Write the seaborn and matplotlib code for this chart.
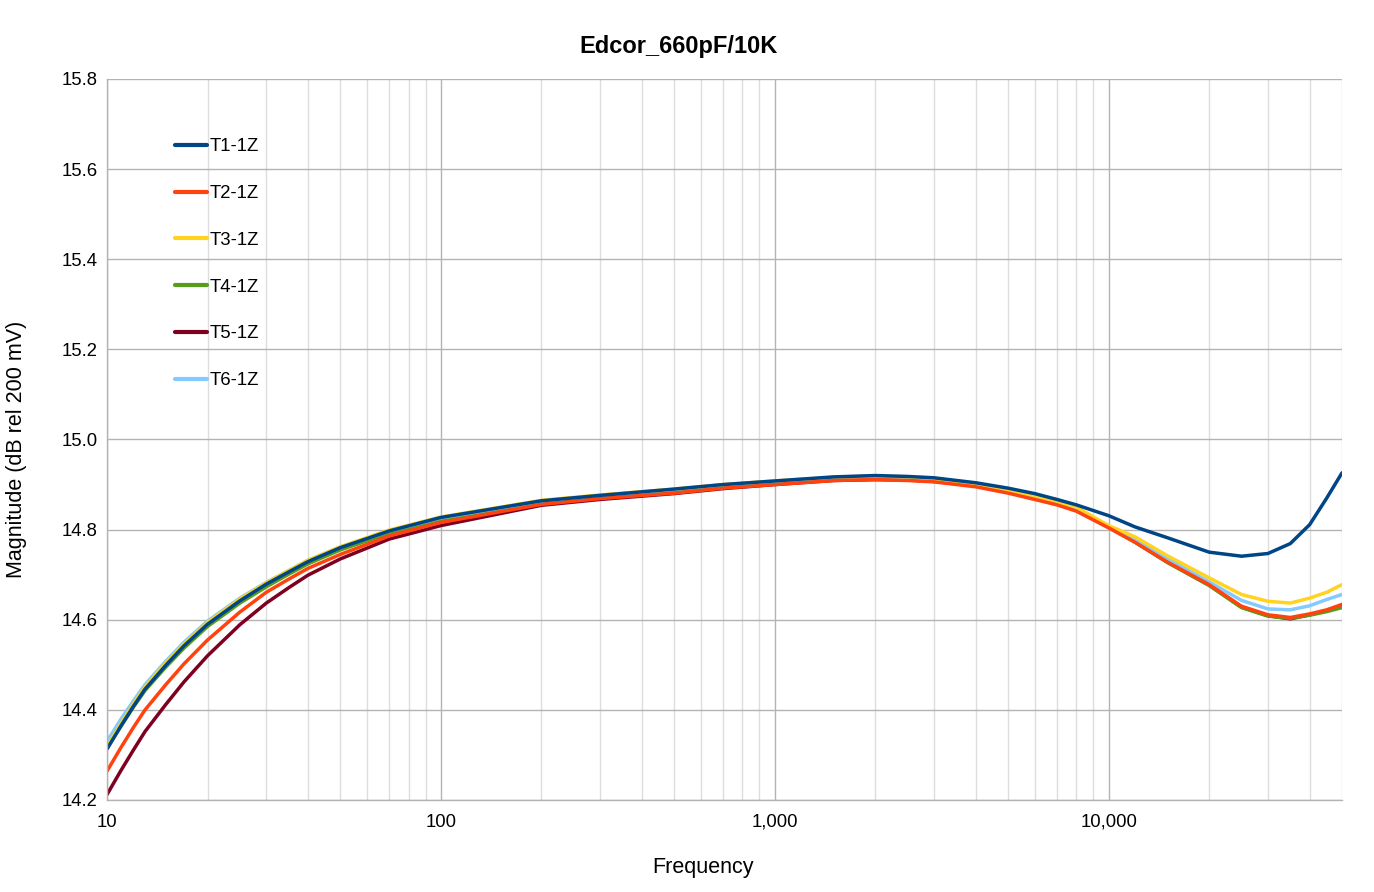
"""Edcor 660pF/10K frequency response, recreated with seaborn."""

import matplotlib

matplotlib.use("Agg")

import matplotlib.pyplot as plt
import pandas as pd
import seaborn as sns
from matplotlib.ticker import FuncFormatter, LogLocator, MultipleLocator, NullFormatter

# frequencies in Hz
freq = [10, 11, 12, 13, 15, 17, 20, 25, 30, 35, 40, 50, 70, 100, 200, 300,
        500, 700, 1000, 1500, 2000, 2500, 3000, 4000, 5000, 6000, 7000, 8000,
        10000, 12000, 15000, 20000, 25000, 30000, 35000, 40000, 45000, 50000]

t1 = [14.313, 14.364, 14.408, 14.446, 14.499, 14.542, 14.590, 14.642, 14.679,
      14.706, 14.729, 14.760, 14.797, 14.827, 14.864, 14.876, 14.890, 14.900,
      14.908, 14.917, 14.920, 14.918, 14.915, 14.904, 14.892, 14.880, 14.867,
      14.855, 14.831, 14.806, 14.782, 14.750, 14.741, 14.747, 14.769, 14.811,
      14.870, 14.926]
t2 = [14.264, 14.316, 14.361, 14.400, 14.456, 14.502, 14.555, 14.617, 14.661,
      14.690, 14.714, 14.745, 14.786, 14.816, 14.856, 14.869, 14.881, 14.892,
      14.900, 14.909, 14.911, 14.909, 14.906, 14.895, 14.881, 14.867, 14.855,
      14.841, 14.804, 14.772, 14.728, 14.678, 14.630, 14.611, 14.605, 14.613,
      14.622, 14.634]
t3 = [14.318, 14.369, 14.413, 14.451, 14.504, 14.546, 14.594, 14.646, 14.682,
      14.709, 14.732, 14.762, 14.799, 14.828, 14.865, 14.877, 14.890, 14.900,
      14.908, 14.916, 14.919, 14.917, 14.913, 14.901, 14.888, 14.875, 14.862,
      14.850, 14.809, 14.784, 14.742, 14.693, 14.656, 14.641, 14.637, 14.648,
      14.661, 14.678]
t4 = [14.315, 14.363, 14.406, 14.443, 14.495, 14.537, 14.585, 14.637, 14.673,
      14.701, 14.724, 14.755, 14.792, 14.822, 14.860, 14.872, 14.886, 14.896,
      14.904, 14.913, 14.916, 14.914, 14.911, 14.899, 14.885, 14.870, 14.857,
      14.843, 14.805, 14.772, 14.727, 14.676, 14.627, 14.608, 14.603, 14.610,
      14.618, 14.627]
t5 = [14.212, 14.265, 14.311, 14.352, 14.412, 14.462, 14.520, 14.589, 14.637,
      14.671, 14.699, 14.735, 14.779, 14.809, 14.854, 14.867, 14.880, 14.891,
      14.900, 14.909, 14.911, 14.910, 14.907, 14.897, 14.884, 14.871, 14.859,
      14.846, 14.806, 14.773, 14.728, 14.677, 14.628, 14.609, 14.602, 14.611,
      14.620, 14.632]
t6 = [14.330, 14.379, 14.420, 14.456, 14.508, 14.550, 14.597, 14.648, 14.683,
      14.709, 14.732, 14.761, 14.797, 14.826, 14.863, 14.875, 14.889, 14.899,
      14.907, 14.915, 14.918, 14.916, 14.912, 14.900, 14.887, 14.873, 14.860,
      14.847, 14.806, 14.778, 14.735, 14.684, 14.643, 14.624, 14.622, 14.631,
      14.645, 14.656]

series_names = ["T1-1Z", "T2-1Z", "T3-1Z", "T4-1Z", "T5-1Z", "T6-1Z"]
series_values = [t1, t2, t3, t4, t5, t6]
series_colors = ["#004586", "#ff420e", "#ffd320", "#579d1c", "#7e0021", "#83caff"]
# drawing order, so that the overlaps look like the original
draw_order = ["T5-1Z", "T4-1Z", "T6-1Z", "T3-1Z", "T2-1Z", "T1-1Z"]

frames = [pd.DataFrame({"Frequency": freq, "Magnitude": vals, "Series": name})
          for name, vals in zip(series_names, series_values)]
df = pd.concat(frames, ignore_index=True)
palette = dict(zip(series_names, series_colors))

sns.set_theme(style="white")
plt.rcParams["font.family"] = ["Liberation Sans", "DejaVu Sans"]
plt.rcParams["text.color"] = "black"

fig = plt.figure(figsize=(13.74, 8.92), dpi=100)
ax = fig.add_axes([107 / 1374, 1 - 800 / 892, 1235 / 1374, 721 / 892])

for name in draw_order:
    sns.lineplot(
        data=df[df["Series"] == name],
        x="Frequency",
        y="Magnitude",
        color=palette[name],
        linewidth=2.5,
        ax=ax,
        legend=False,
    )

ax.set_xscale("log")
ax.set_xlim(10, 50000)
ax.set_ylim(14.2, 15.8)
ax.yaxis.set_major_locator(MultipleLocator(0.2))
ax.yaxis.set_major_formatter(FuncFormatter(lambda v, _: f"{v:.1f}"))
ax.xaxis.set_major_locator(LogLocator(base=10, numticks=10))
ax.xaxis.set_minor_locator(LogLocator(base=10, subs=range(2, 10), numticks=50))
ax.xaxis.set_major_formatter(FuncFormatter(lambda v, _: f"{v:,.0f}"))
ax.xaxis.set_minor_formatter(NullFormatter())

ax.grid(True, which="major", color="#b3b3b3", linewidth=1.0)
ax.grid(True, which="minor", axis="x", color="#dddddd", linewidth=1.0)
ax.set_axisbelow(True)
for side in ("top", "right"):
    ax.spines[side].set_visible(False)
for side in ("left", "bottom"):
    ax.spines[side].set_color("#b3b3b3")
    ax.spines[side].set_linewidth(1.0)
ax.tick_params(axis="both", which="major", length=4, color="#b3b3b3",
               labelsize=13.3, labelcolor="black", pad=3)
ax.tick_params(axis="x", which="minor", length=0)
ax.tick_params(axis="x", which="major", pad=6)

ax.set_xlabel("")
ax.set_ylabel("")
fig.text(0.494, 0.948, "Edcor_660pF/10K", fontsize=17, fontweight="bold",
         ha="center", va="center", color="black")
fig.text(703 / 1374, 1 - 868 / 892, "Frequency", fontsize=15.5,
         ha="center", va="center", color="black")
fig.text(17 / 1374, 1 - 449.5 / 892, "Magnitude (dB rel 200 mV)", fontsize=15.5,
         rotation=90, ha="center", va="center", color="black")

handles = [plt.Line2D([], [], color=c, linewidth=3) for c in series_colors]
ax.legend(
    handles,
    series_names,
    loc="upper left",
    bbox_to_anchor=(0.0418, 0.941),
    frameon=False,
    fontsize=13.3,
    handlelength=1.7,
    handletextpad=0.15,
    labelspacing=1.615,
)

fig.savefig("out.png", dpi=100)
